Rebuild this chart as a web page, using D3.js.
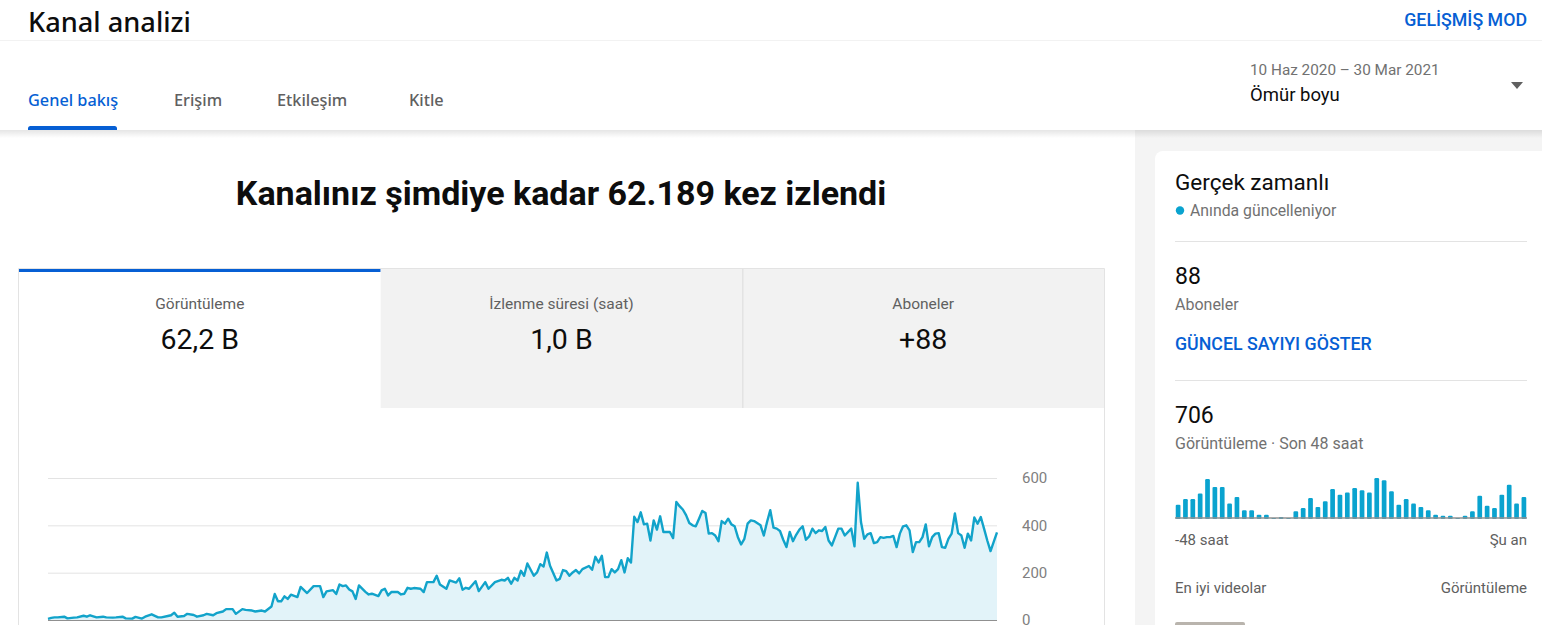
<!DOCTYPE html>
<html>
<head>
<meta charset="utf-8">
<script src="https://cdn.jsdelivr.net/npm/d3@7"></script>
<style>
  body { margin: 0; overflow: hidden; background: #fff; font-family: Roboto, Arial, sans-serif; }
  text { font-family: Roboto, Arial, sans-serif; }
</style>
</head>
<body>
<div id="page"></div>
<script>
// Views per day, lifetime (day offset from 10 Jun 2020)
const startDate = new Date(2020, 5, 10);
const lastDay = 293;
const viewDays = [
  0,1,2,3,5,6,8,9,11,12,13,15,17,18,20,21,23,24,26,27,29,30,32,34,35,37,38,39,40,42,43,45,46,48,49,51,52,54,55,56,57,58,60,61,63,64,66,67,69,70,71,72,73,74,75,77,78,80,82,84,85,86,88,89,90,91,92,93,94,95,96,98,
  99,100,102,103,104,105,106,108,109,110,111,112,113,115,116,117,119,120,121,123,124,126,127,128,129,130,132,133,135,136,138,140,141,142,143,144,145,146,147,148,150,151,152,153,154,155,157,158,159,160,161,162,163,164,165,167,168,169,170,171,172,173,174,175,176,177,178,179,180,
  181,182,183,184,185,186,187,188,189,190,192,193,194,195,196,197,198,199,200,201,202,203,204,205,206,207,208,209,210,211,212,213,214,215,216,217,218,220,221,222,223,224,225,226,227,228,229,230,231,232,233,234,235,
  236,237,238,239,240,241,242,243,244,245,246,248,249,250,251,252,253,254,255,256,257,258,259,260,261,262,263,264,265,266,267,268,269,270,271,272,273,274,275,276,277,278,279,280,281,282,283,284,285,286,287,288,289,290,291,293
];
const viewCounts = [
  5,9,11,11,14,7,10,11,18,14,20,11,14,11,10,11,14,7,6,13,6,14,24,11,11,17,20,31,14,17,26,21,14,20,26,20,29,36,46,46,46,26,46,43,40,36,40,36,57,110,79,79,100,89,107,97,140,114,143,143,97,121,126,110,150,143,146,129,121,89,146,119,
  108,111,101,125,132,104,118,118,108,111,136,132,135,132,118,160,160,187,150,132,167,158,176,128,136,132,164,122,160,132,160,170,167,178,153,178,167,208,187,239,187,201,236,226,285,229,167,174,211,206,187,201,211,197,215,228,212,267,243,271,181,181,215,201,215,253,201,261,243,
  436,414,455,404,407,336,421,382,438,372,372,346,499,481,467,443,410,400,396,428,461,452,365,367,357,333,418,407,428,404,396,350,319,343,407,421,418,400,357,414,464,390,386,376,339,308,372,333,360,382,396,339,353,
  386,367,379,376,393,336,315,350,386,386,357,386,311,580,414,343,362,367,325,329,350,347,350,350,355,308,365,396,400,379,287,329,329,350,404,311,350,365,367,308,305,343,365,450,367,357,305,365,336,433,407,435,386,336,291,370
];
const viewTicks = [0, 200, 400, 600];

// Realtime: views per hour, last 48 hours
const hourlyViews = [
  12,17,17,22,35,28,28,13,19,7,7,3,3,0,1,0,6,9,18,10,15,26,21,23,
  27,25,23,36,34,24,12,17,13,10,7,3,2,2,0,2,6,20,11,9,21,30,13,19
];

const navTabs = ["Genel bakış", "Erişim", "Etkileşim", "Kitle"];
const metricLabels = ["Görüntüleme", "İzlenme süresi (saat)", "Aboneler"];
const metricValues = ["62,2 B", "1,0 B", "+88"];

const W = 1542, H = 625;
const blue = "#065fd4";
const lineBlue = "#12a3ca";

const svg = d3.select("#page").append("svg")
    .attr("width", W)
    .attr("height", H);

const defs = svg.append("defs");
const shadow = defs.append("linearGradient")
    .attr("id", "shadow").attr("x1", 0).attr("y1", 0).attr("x2", 0).attr("y2", 1);
shadow.append("stop").attr("offset", "0%").attr("stop-color", "rgba(0,0,0,0.10)");
shadow.append("stop").attr("offset", "100%").attr("stop-color", "rgba(0,0,0,0)");

// page backgrounds
svg.append("rect").attr("width", W).attr("height", H).attr("fill", "#fff");
svg.append("rect")
    .attr("x", 1135).attr("y", 130)
    .attr("width", W - 1135).attr("height", H - 130)
    .attr("fill", "#f4f4f4");

// header
svg.append("text")
    .attr("x", 28).attr("y", 32)
    .style("font-family", "'Noto Sans', sans-serif")
    .style("font-size", "27.2px")
    .style("font-weight", 500)
    .attr("fill", "#0d0d0d")
    .text("Kanal analizi");

svg.append("text")
    .attr("x", 1527).attr("y", 26)
    .attr("text-anchor", "end")
    .style("font-size", "17.8px")
    .style("font-weight", 500)
    .attr("fill", blue)
    .text("GELİŞMİŞ MOD");

svg.append("line")
    .attr("x1", 0).attr("x2", W).attr("y1", 40.5).attr("y2", 40.5)
    .attr("stroke", "#f2f2f2");

// nav tabs
const tabX = [28, 174, 277, 409];
svg.selectAll(".nav")
    .data(navTabs)
    .enter()
    .append("text")
    .attr("class", "nav")
    .attr("x", (d, i) => tabX[i])
    .attr("y", 106)
    .style("font-family", "'Noto Sans', sans-serif")
    .style("font-size", "16.3px")
    .style("font-weight", 500)
    .attr("fill", (d, i) => i === 0 ? blue : "#606060")
    .text(d => d);

svg.append("path")
    .attr("d", "M28,130 L28,128.5 Q28,126 30.5,126 L114.5,126 Q117,126 117,128.5 L117,130 Z")
    .attr("fill", blue);

svg.append("rect")
    .attr("x", 0).attr("y", 130).attr("width", W).attr("height", 8)
    .attr("fill", "url(#shadow)");

// date range
svg.append("text")
    .attr("x", 1250).attr("y", 75)
    .style("font-size", "15.3px")
    .attr("fill", "#717171")
    .text("10 Haz 2020 – 30 Mar 2021");
svg.append("text")
    .attr("x", 1250).attr("y", 101)
    .style("font-size", "18.5px")
    .attr("fill", "#0d0d0d")
    .text("Ömür boyu");
svg.append("path")
    .attr("d", "M1511,82 L1523,82 L1517,89 Z")
    .attr("fill", "#606060");

// headline
svg.append("text")
    .attr("x", 561).attr("y", 205)
    .attr("text-anchor", "middle")
    .style("font-size", "34px")
    .style("font-weight", 700)
    .attr("fill", "#0d0d0d")
    .text("Kanalınız şimdiye kadar 62.189 kez izlendi");

// metric card
const card = svg.append("g");
card.append("path")
    .attr("d", `M18.5,${H} L18.5,268.5 L1104.5,268.5 L1104.5,${H}`)
    .attr("fill", "none")
    .attr("stroke", "#e3e3e3");

const tabW = (1104 - 19) / 3;
const metric = card.selectAll(".metric")
    .data(metricLabels)
    .enter()
    .append("g")
    .attr("class", "metric")
    .attr("transform", (d, i) => `translate(${19 + i * tabW},269)`);

metric.append("rect")
    .attr("width", tabW).attr("height", 139)
    .attr("fill", (d, i) => i === 0 ? "#fff" : "#f2f2f2");

metric.filter((d, i) => i === 2)
    .append("line")
    .attr("x1", 0.5).attr("x2", 0.5).attr("y1", 0).attr("y2", 139)
    .attr("stroke", "#dadada");

metric.filter((d, i) => i === 0)
    .append("rect")
    .attr("width", tabW).attr("height", 3)
    .attr("fill", blue);

metric.append("text")
    .attr("x", tabW / 2).attr("y", 40)
    .attr("text-anchor", "middle")
    .style("font-size", "15.5px")
    .attr("fill", "#606060")
    .text(d => d);

metric.append("text")
    .attr("x", tabW / 2).attr("y", 80)
    .attr("text-anchor", "middle")
    .style("font-size", "28.5px")
    .attr("fill", "#0d0d0d")
    .text((d, i) => metricValues[i]);

// main line chart
const series = viewDays.map((d, i) => ({ date: d3.timeDay.offset(startDate, d), value: viewCounts[i] }));

const x = d3.scaleTime()
    .domain([startDate, d3.timeDay.offset(startDate, lastDay)])
    .range([48, 997]);
const y = d3.scaleLinear()
    .domain([0, 600])
    .range([620, 478]);

const grid = svg.append("g")
    .attr("transform", "translate(48,0)")
    .call(d3.axisRight(y).tickValues(viewTicks).tickSize(949).tickPadding(25).tickFormat(d3.format("d")));
grid.select(".domain").remove();
grid.selectAll(".tick line")
    .attr("stroke", d => d === 0 ? "#909090" : "#e3e3e3")
    .attr("stroke-width", 1);
grid.selectAll(".tick text")
    .style("font-size", "15px")
    .style("font-family", "Roboto, sans-serif")
    .attr("fill", "#808080");

svg.append("path")
    .datum(series)
    .attr("fill", "#e2f3f9")
    .attr("d", d3.area()
        .x(d => x(d.date))
        .y0(y(0))
        .y1(d => y(d.value)));

svg.append("path")
    .datum(series)
    .attr("fill", "none")
    .attr("stroke", lineBlue)
    .attr("stroke-width", 2.4)
    .attr("stroke-linejoin", "round")
    .attr("d", d3.line()
        .x(d => x(d.date))
        .y(d => y(d.value)));

// realtime card
svg.append("rect")
    .attr("x", 1155).attr("y", 151)
    .attr("width", 420).attr("height", 520)
    .attr("rx", 8)
    .attr("fill", "#fff");

svg.append("text")
    .attr("x", 1175).attr("y", 190)
    .style("font-size", "22.5px")
    .attr("fill", "#0d0d0d")
    .text("Gerçek zamanlı");
svg.append("circle")
    .attr("cx", 1180).attr("cy", 210.5).attr("r", 4.2)
    .attr("fill", "#0aa3cf");
svg.append("text")
    .attr("x", 1190).attr("y", 216)
    .style("font-size", "15.8px")
    .attr("fill", "#717171")
    .text("Anında güncelleniyor");

[241.5, 380.5].forEach(yy => {
    svg.append("line")
        .attr("x1", 1175).attr("x2", 1527)
        .attr("y1", yy).attr("y2", yy)
        .attr("stroke", "#e3e3e3");
});

svg.append("text").attr("x", 1175).attr("y", 284)
    .style("font-size", "23px").attr("fill", "#0d0d0d").text("88");
svg.append("text").attr("x", 1175).attr("y", 310)
    .style("font-size", "16px").attr("fill", "#717171").text("Aboneler");
svg.append("text").attr("x", 1175).attr("y", 350)
    .style("font-size", "17.8px").style("font-weight", 500).attr("fill", blue).text("GÜNCEL SAYIYI GÖSTER");
svg.append("text").attr("x", 1175).attr("y", 423)
    .style("font-size", "23px").attr("fill", "#0d0d0d").text("706");
svg.append("text").attr("x", 1175).attr("y", 449)
    .style("font-size", "16px").attr("fill", "#717171").text("Görüntüleme · Son 48 saat");

// hourly bars
const bx = d3.scaleBand()
    .domain(d3.range(hourlyViews.length))
    .range([1175, 1527])
    .paddingInner(0.36)
    .paddingOuter(0.1);
const by = d3.scaleLinear()
    .domain([0, 36])
    .range([518, 478]);

svg.append("g")
    .selectAll("rect")
    .data(hourlyViews)
    .enter()
    .append("rect")
    .attr("x", (d, i) => bx(i))
    .attr("y", d => by(d))
    .attr("width", bx.bandwidth())
    .attr("height", d => by(0) - by(d) + 1)
    .attr("rx", 1.2)
    .attr("fill", "#0aa3cf");

svg.append("line")
    .attr("x1", 1175).attr("x2", 1527)
    .attr("y1", 518).attr("y2", 518)
    .attr("stroke", "#909090")
    .attr("stroke-width", 1.5);

svg.append("text").attr("x", 1175).attr("y", 545)
    .style("font-size", "15px").attr("fill", "#606060").text("-48 saat");
svg.append("text").attr("x", 1527).attr("y", 545).attr("text-anchor", "end")
    .style("font-size", "15px").attr("fill", "#606060").text("Şu an");

svg.append("text").attr("x", 1175).attr("y", 593)
    .style("font-size", "15px").attr("fill", "#606060").text("En iyi videolar");
svg.append("text").attr("x", 1527).attr("y", 593).attr("text-anchor", "end")
    .style("font-size", "15px").attr("fill", "#606060").text("Görüntüleme");

// top of first video thumbnail
svg.append("rect")
    .attr("x", 1175).attr("y", 622)
    .attr("width", 70).attr("height", 10)
    .attr("rx", 2)
    .attr("fill", "#b9b4ad");
</script>
</body>
</html>
